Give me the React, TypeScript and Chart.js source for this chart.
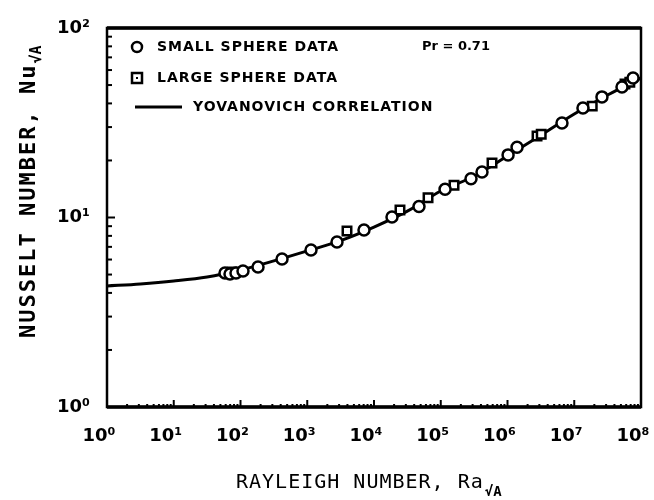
import React, { useEffect, useRef } from 'react';
import { Chart, registerables } from 'chart.js';

Chart.register(...registerables);

// Small sphere data (circles)
const smallRa = [58.6, 69.6, 85.6, 109, 183, 419, 1138, 2790, 7080, 18600, 47200, 116000, 284000, 415000, 1.02e6, 1.39e6, 6.55e6, 1.35e7, 2.6e7, 5.19e7, 7.6e7];
const smallNu = [5.09, 5.03, 5.09, 5.22, 5.48, 6.04, 6.73, 7.43, 8.59, 10.06, 11.43, 14.1, 16.0, 17.4, 21.4, 23.5, 31.5, 37.8, 43.3, 48.8, 54.5];

// Large sphere data (squares)
const largeRa = [74.6, 3940, 24500, 64500, 158000, 586000, 2.77e6, 3.2e6, 1.86e7, 5.76e7, 6.8e7];
const largeNu = [5.15, 8.49, 10.96, 12.7, 14.8, 19.4, 26.9, 27.5, 38.7, 50.6, 51.8];

// Yovanovich correlation
const corrRa = [1, 3.16, 10, 31.6, 100, 316, 1e3, 3.16e3, 1e4, 3.16e4, 1e5, 3.16e5, 1e6, 3.16e6, 1e7, 3.16e7, 1e8];
const corrNu = [4.35, 4.46, 4.62, 4.85, 5.28, 5.9, 6.66, 7.55, 8.9, 10.8, 13.8, 16.5, 21.1, 27.2, 35.2, 44.3, 54.5];

// Axis ticks
const xTicks = [1, 10, 100, 1e3, 1e4, 1e5, 1e6, 1e7, 1e8];
const xTickLabels = ['10⁰', '10¹', '10²', '10³', '10⁴', '10⁵', '10⁶', '10⁷', '10⁸'];
const yTicks = [1, 10, 100];
const yTickLabels = ['10⁰', '10¹', '10²'];

const legendLabels = ['SMALL SPHERE DATA', 'LARGE SPHERE DATA', 'YOVANOVICH CORRELATION'];
const prLabel = 'Pr = 0.71';
const xTitle = 'RAYLEIGH NUMBER, Ra';
const yTitle = 'NUSSELT NUMBER, Nu';
const subTitle = '√A';

export default function App() {
  const ref = useRef<HTMLCanvasElement>(null);

  useEffect(() => {
    const canvas = ref.current!;

    const decor = {
      id: 'decor',
      afterDraw(chart: any) {
        const ctx = chart.ctx as CanvasRenderingContext2D;
        const { left, right, top, bottom } = chart.chartArea;
        const xs = chart.scales.x;
        const ys = chart.scales.y;
        ctx.save();
        ctx.strokeStyle = '#000';
        ctx.fillStyle = '#000';

        // inward ticks
        ctx.lineWidth = 2;
        for (let k = 0; k < yTicks.length - 1; k++) {
          for (let m = 1; m <= 9; m++) {
            const v = m * yTicks[k];
            const py = ys.getPixelForValue(v);
            const len = m === 1 ? 8 : 5;
            ctx.beginPath();
            ctx.moveTo(left, py);
            ctx.lineTo(left + len, py);
            ctx.stroke();
          }
        }
        for (let k = 0; k < xTicks.length - 1; k++) {
          for (let m = 1; m <= 9; m++) {
            const v = m * xTicks[k];
            const px = xs.getPixelForValue(v);
            const len = m === 1 ? 7 : 3;
            ctx.beginPath();
            ctx.moveTo(px, bottom);
            ctx.lineTo(px, bottom - len);
            ctx.stroke();
          }
        }

        // frame
        ctx.lineWidth = 2.5;
        ctx.strokeRect(left, top, right - left, bottom - top);
        ctx.lineWidth = 3.5;
        ctx.beginPath();
        ctx.moveTo(left, top);
        ctx.lineTo(right, top);
        ctx.moveTo(left, bottom);
        ctx.lineTo(right, bottom);
        ctx.stroke();

        // legend
        (ctx as any).letterSpacing = '1px';
        ctx.font = 'bold 14px "DejaVu Sans"';
        ctx.textBaseline = 'middle';
        ctx.textAlign = 'left';
        ctx.lineWidth = 2.5;
        ctx.beginPath();
        ctx.arc(137, 47, 5, 0, Math.PI * 2);
        ctx.stroke();
        ctx.fillText(legendLabels[0], 157, 47);
        ctx.strokeRect(132, 73, 10, 10);
        ctx.fillRect(136, 77, 2, 2);
        ctx.fillText(legendLabels[1], 157, 78);
        ctx.lineWidth = 3;
        ctx.beginPath();
        ctx.moveTo(135, 107);
        ctx.lineTo(182, 107);
        ctx.stroke();
        ctx.fillText(legendLabels[2], 193, 107);
        (ctx as any).letterSpacing = '0px';
        ctx.font = 'bold 13px "DejaVu Sans"';
        ctx.fillText(prLabel, 422, 47);

        // x title
        (ctx as any).letterSpacing = '1px';
        ctx.font = '20px "DejaVu Sans Mono"';
        ctx.textBaseline = 'alphabetic';
        ctx.fillText(xTitle, 236, 488);
        const wx = ctx.measureText(xTitle).width;
        (ctx as any).letterSpacing = '0px';
        ctx.font = 'bold 14px "DejaVu Sans Mono"';
        ctx.fillText(subTitle, 237 + wx, 496);

        // y title
        ctx.translate(35, 338);
        ctx.rotate(-Math.PI / 2);
        (ctx as any).letterSpacing = '2px';
        ctx.font = 'bold 22px "DejaVu Sans Mono"';
        ctx.fillText(yTitle, 0, 0);
        const wy = ctx.measureText(yTitle).width;
        (ctx as any).letterSpacing = '0px';
        ctx.font = 'bold 15px "DejaVu Sans Mono"';
        ctx.fillText(subTitle, wy, 6);
        ctx.restore();
      },
    };

    const tickFont = { family: '"DejaVu Sans"', size: 18, weight: 'bold' as const };

    const chart = new Chart(canvas, {
      type: 'scatter',
      data: {
        datasets: [
          {
            label: legendLabels[0],
            data: smallRa.map((x, i) => ({ x, y: smallNu[i] })),
            pointStyle: 'circle',
            pointRadius: 5.5,
            borderColor: '#000',
            backgroundColor: '#fff',
            borderWidth: 2.5,
          },
          {
            label: legendLabels[1],
            data: largeRa.map((x, i) => ({ x, y: largeNu[i] })),
            pointStyle: 'rect',
            pointRadius: 6,
            borderColor: '#000',
            backgroundColor: '#fff',
            borderWidth: 2.5,
          },
          {
            type: 'line',
            label: legendLabels[2],
            data: corrRa.map((x, i) => ({ x, y: corrNu[i] })),
            borderColor: '#000',
            borderWidth: 3,
            pointRadius: 0,
            showLine: true,
            fill: false,
            cubicInterpolationMode: 'monotone',
          } as any,
        ],
      },
      options: {
        responsive: false,
        animation: false,
        devicePixelRatio: 1,
        layout: { padding: { top: 28, right: 13, left: 0, bottom: 0 } },
        plugins: { legend: { display: false }, tooltip: { enabled: false } },
        scales: {
          x: {
            type: 'logarithmic',
            position: 'bottom',
            min: 1,
            max: 1e8,
            afterBuildTicks: (s: any) => {
              s.ticks = xTicks.map((v) => ({ value: v }));
            },
            afterFit: (s: any) => {
              s.height = 93;
              s.paddingLeft = 0;
              s.paddingRight = 0;
            },
            ticks: {
              autoSkip: false,
              maxRotation: 0,
              padding: 19,
              labelOffset: -8,
              color: '#000',
              font: tickFont,
              callback: (_v: any, i: number) => xTickLabels[i],
            },
            grid: { display: false, drawTicks: false },
            border: { display: false },
          },
          y: {
            type: 'logarithmic',
            min: 1,
            max: 100,
            afterBuildTicks: (s: any) => {
              s.ticks = yTicks.map((v) => ({ value: v }));
            },
            afterFit: (s: any) => {
              s.width = 107;
              s.paddingTop = 0;
              s.paddingBottom = 0;
            },
            ticks: {
              autoSkip: false,
              padding: 17,
              color: '#000',
              font: tickFont,
              callback: (_v: any, i: number) => yTickLabels[i],
            },
            grid: { display: false, drawTicks: false },
            border: { display: false },
          },
        },
      },
      plugins: [decor],
    });

    return () => chart.destroy();
  }, []);

  return (
    <div style={{ position: 'fixed', left: 0, top: 0, width: 654, height: 500, background: '#fff' }}>
      <canvas ref={ref} width={654} height={500} style={{ display: 'block' }} />
    </div>
  );
}
